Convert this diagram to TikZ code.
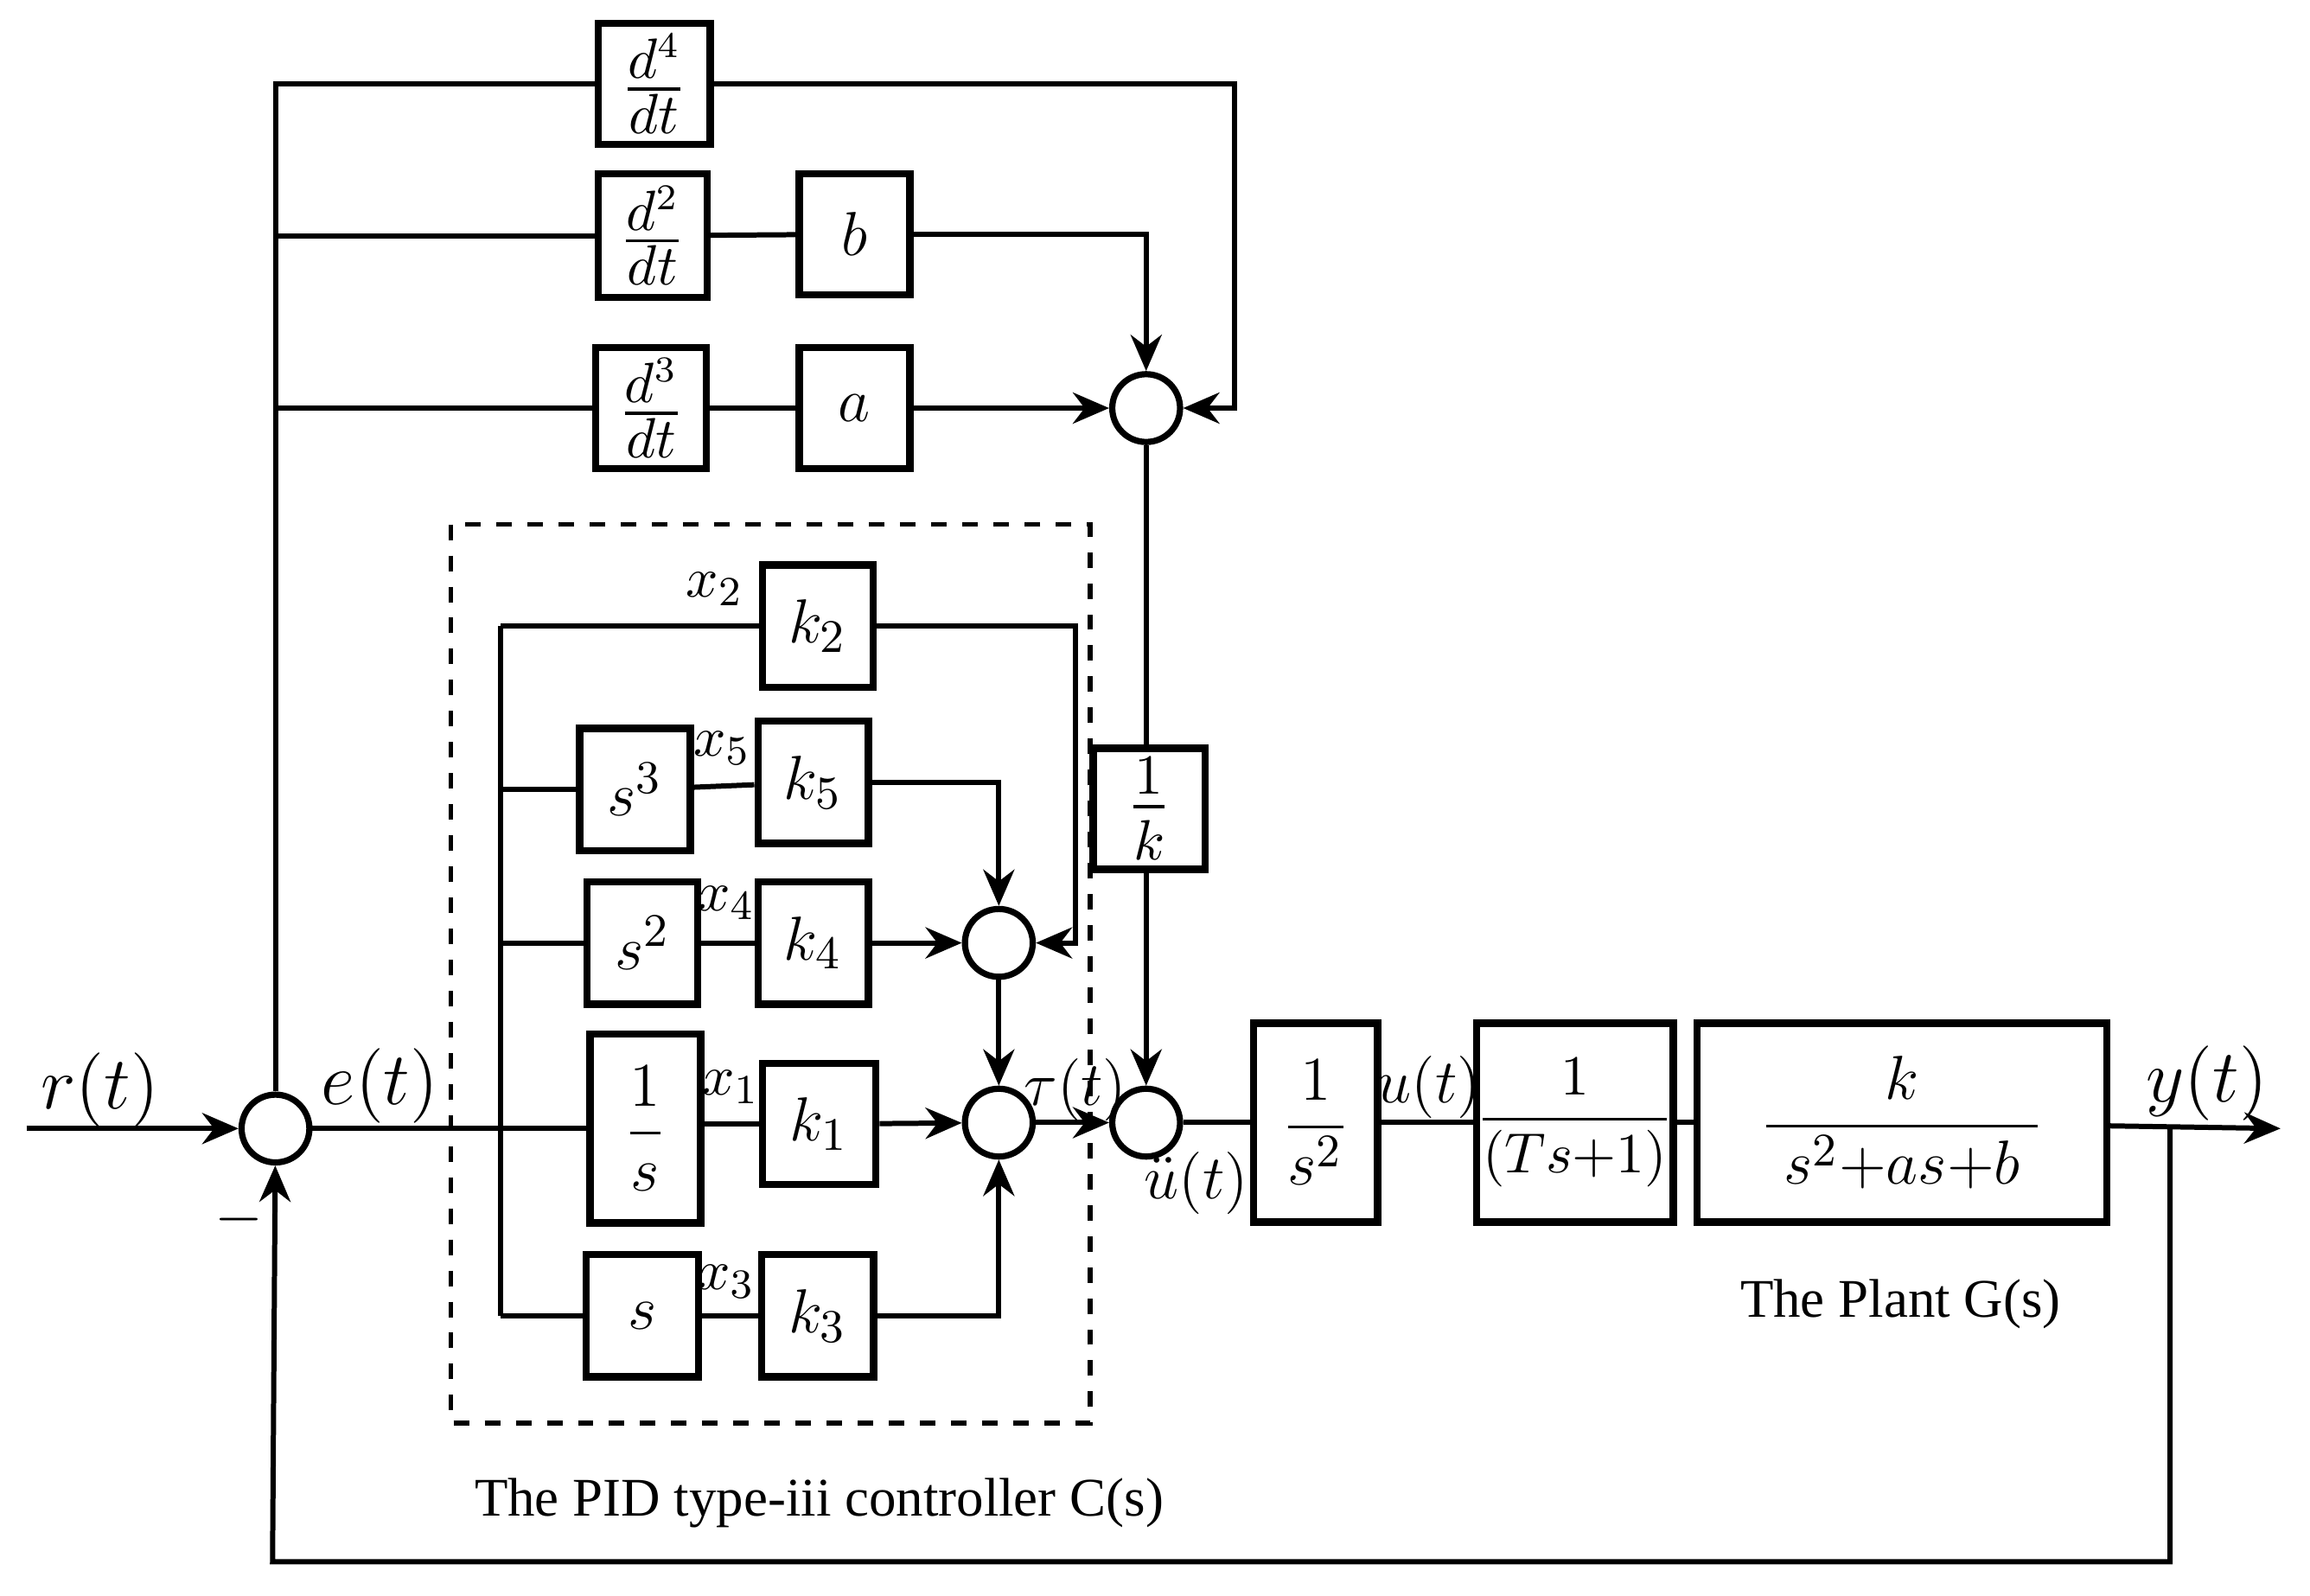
\documentclass[tikz,border=0pt]{standalone}
\usepackage{fontspec}
\usepackage{amsmath}
\setmainfont{Liberation Serif}
\usetikzlibrary{arrows.meta}
\begin{document}
\begin{tikzpicture}[x=0.01cm,y=-0.01cm,line width=1pt,
  blk/.style={draw,line width=1.4pt,inner sep=0pt,font=\fontsize{13}{15}\selectfont},
  sum/.style={draw,circle,line width=1.2pt,minimum size=0.46cm,inner sep=0pt},
  arr/.style={-{Stealth[length=7pt,width=6pt]}},
  lab/.style={font=\fontsize{13}{15}\selectfont},
  sl/.style={font=\fontsize{11}{13}\selectfont}]
\useasboundingbox (0,0) rectangle (1568,1083);
% sums
\node[sum] (s0) at (187,766) {};
\node[sum] (sa) at (778,277) {};
\node[sum] (sb) at (678,640) {};
\node[sum] (sc) at (678,762) {};
\node[sum] (sd) at (778,762) {};
% top blocks
\node[blk,minimum width=0.76cm,minimum height=0.82cm,font=\fontsize{15}{17}\selectfont] (d4) at (444,57) {$\frac{d^4}{dt}$};
\node[blk,minimum width=0.74cm,minimum height=0.84cm,font=\fontsize{15}{17}\selectfont] (d2) at (443,160) {$\frac{d^2}{dt}$};
\node[blk,minimum width=0.75cm,minimum height=0.82cm] (b) at (580,159) {$b$};
\node[blk,minimum width=0.75cm,minimum height=0.82cm,font=\fontsize{15}{17}\selectfont] (d3) at (442,277) {$\frac{d^3}{dt}$};
\node[blk,minimum width=0.75cm,minimum height=0.82cm] (a) at (580,277) {$a$};
\node[blk,minimum width=0.76cm,minimum height=0.82cm,font=\fontsize{16}{18}\selectfont] (ik) at (780,549) {$\frac{1}{k}$};
% controller
\draw[dashed,line width=0.9pt] (306,356) rectangle (740,966);
\node[blk,minimum width=0.75cm,minimum height=0.83cm] (k2) at (555,425) {$k_2$};
\node[blk,minimum width=0.75cm,minimum height=0.83cm] (p3) at (431,536) {$s^3$};
\node[blk,minimum width=0.75cm,minimum height=0.83cm] (k5) at (552,531) {$k_5$};
\node[blk,minimum width=0.75cm,minimum height=0.83cm] (p2) at (436,640) {$s^2$};
\node[blk,minimum width=0.75cm,minimum height=0.83cm] (k4) at (552,640) {$k_4$};
\node[blk,minimum width=0.75cm,minimum height=1.28cm] (in) at (438,766) {$\dfrac{1}{s}$};
\node[blk,minimum width=0.77cm,minimum height=0.82cm] (k1) at (556,763) {$k_1$};
\node[blk,minimum width=0.76cm,minimum height=0.83cm] (p1) at (436,893) {$s$};
\node[blk,minimum width=0.76cm,minimum height=0.83cm] (k3) at (555,893) {$k_3$};
% plant
\node[blk,minimum width=0.84cm,minimum height=1.35cm] (g1) at (893,762) {$\dfrac{1}{s^2}$};
\node[blk,minimum width=1.15cm,minimum height=1.35cm,font=\fontsize{11}{13}\selectfont] (g2) at (1069,762) {$\dfrac{1}{(Ts{+}1)}$};
\node[blk,minimum width=2.78cm,minimum height=1.35cm] (g3) at (1291,762) {$\dfrac{\;k\;}{\;s^2{+}as{+}b\;}$};
% coordinates
\coordinate (rin) at (18,766);
\coordinate (top) at (187,57);
\coordinate (t2) at (187,160);
\coordinate (t3) at (187,277);
\coordinate (c4) at (838,57);
\coordinate (c4b) at (838,277);
\coordinate (cb) at (778,159);
\coordinate (busT) at (340,425);
\coordinate (busB) at (340,893);
\coordinate (bus5) at (340,536);
\coordinate (bus4) at (340,640);
\coordinate (bus1) at (340,766);
\coordinate (ck2) at (730,425);
\coordinate (ck2b) at (730,640);
\coordinate (ck5) at (678,531);
\coordinate (ck3) at (678,893);
\coordinate (yout) at (1548,766);
\coordinate (fb1) at (1473,766);
\coordinate (fb2) at (1473,1060);
\coordinate (fb3) at (185,1060);
% connectors
\draw[arr] (rin) -- (s0);
\draw (s0) -- (top) -- (d4);
\draw (t2) -- (d2);
\draw (t3) -- (d3);
\draw[arr] (d4) -- (c4) -- (c4b) -- (sa);
\draw (d2) -- (b);
\draw[arr] (b) -- (cb) -- (sa);
\draw (d3) -- (a);
\draw[arr] (a) -- (sa);
\draw (sa) -- (sa|-ik.north);
\draw[arr] (sd|-ik.south) -- (sd);
\draw (s0) -- (bus1);
\draw (busT) -- (busB);
\draw (busT) -- (k2);
\draw[arr] (k2) -- (ck2) -- (ck2b) -- (sb);
\draw (bus5) -- (p3); \draw (p3) -- (k5);
\draw[arr] (k5) -- (ck5) -- (sb);
\draw (bus4) -- (p2); \draw (p2) -- (k4);
\draw[arr] (k4) -- (sb);
\draw (bus1) -- (in); \draw (in.east|-k1) -- (k1);
\draw[arr] (k1) -- (sc);
\draw (busB) -- (p1); \draw (p1) -- (k3);
\draw[arr] (k3) -- (ck3) -- (sc);
\draw[arr] (sb) -- (sc);
\draw[arr] (sc) -- (sd);
\draw (sd) -- (g1);
\draw (g1) -- (g2);
\draw (g2) -- (g3);
\draw[arr] (g3) -- (yout);
\draw[arr] (fb1) -- (fb2) -- (fb3) -- (s0);
% labels
\node[font=\fontsize{15}{17}\selectfont] (lr) at (68,740) {$r(t)$};
\node[font=\fontsize{15}{17}\selectfont] (le) at (258,737) {$e(t)$};
\node[lab] (lm) at (162,828) {$-$};
\node[sl] (lx2) at (485,400) {$x_2$};
\node[sl] (lx5) at (490,508) {$x_5$};
\node[sl] (lx4) at (493,613) {$x_4$};
\node[sl] (lx1) at (496,738) {$x_1$};
\node[sl] (lx3) at (493,870) {$x_3$};
\node[lab] (ltau) at (730,740) {$\tau(t)$};
\node[font=\fontsize{11.5}{14}\selectfont] (lu2) at (812,803) {$\ddot u(t)$};
\node[lab] (lu) at (970,738) {$u(t)$};
\node[font=\fontsize{14}{16}\selectfont] (ly) at (1498,735) {$y(t)$};
\node[font=\fontsize{10.5}{13}\selectfont] (lp) at (1290,885) {The Plant G(s)};
\node[font=\fontsize{10.5}{13}\selectfont] (lc) at (556,1020) {The PID type-iii controller C(s)};
\end{tikzpicture}
\end{document}
